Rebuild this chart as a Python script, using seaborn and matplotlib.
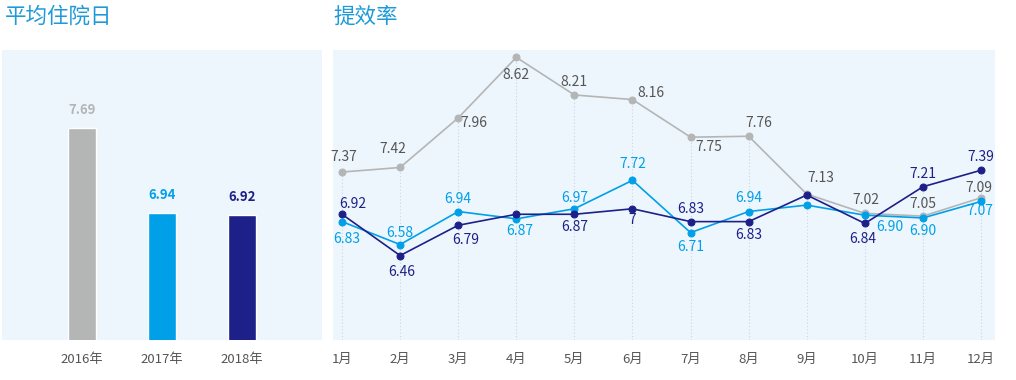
import numpy as np
import pandas as pd
import matplotlib
matplotlib.use('Agg')
import matplotlib.pyplot as plt
import seaborn as sns

sns.set_style('white')
plt.rcParams['font.family'] = ['Noto Sans CJK SC', 'DejaVu Sans']
plt.rcParams['axes.unicode_minus'] = False

# ---------------------------------------------------------------------------
# data (point heights; label texts as printed)
# ---------------------------------------------------------------------------
years = ['2016年', '2017年', '2018年']
avg_stay = [7.69, 6.94, 6.92]

months = ['1月', '2月', '3月', '4月', '5月', '6月', '7月', '8月', '9月', '10月', '11月', '12月']
eff_2016 = [7.37, 7.42, 7.96, 8.62, 8.21, 8.16, 7.75, 7.76, 7.13, 6.92, 6.89, 7.09]
eff_2017 = [6.83, 6.58, 6.94, 6.86, 6.97, 7.28, 6.71, 6.94, 7.01, 6.90, 6.87, 7.05]
eff_2018 = [6.91, 6.46, 6.79, 6.91, 6.91, 6.97, 6.83, 6.83, 7.12, 6.81, 7.21, 7.39]

lab_2016 = ['7.37', '7.42', '7.96', '8.62', '8.21', '8.16', '7.75', '7.76', '7.13', '7.02', '7.05', '7.09']
lab_2017 = ['6.83', '6.58', '6.94', '6.87', '6.97', '7.72', '6.71', '6.94', None, '6.90', '6.90', '7.07']
lab_2018 = ['6.92', '6.46', '6.79', None, '6.87', '7', '6.83', '6.83', None, '6.84', '7.21', '7.39']

# label offsets in pixels (dx, dy)
off_2016 = [(2, 15), (-7, 18), (16, -5), (0, -18), (0, 13), (18, 7),
            (18, -10), (10, 13), (14, 16), (1, 13), (0, 12), (-2, 10)]
off_2017 = [(5, -17), (0, 12), (0, 13), (3, -12), (0, 11), (0, 16),
            (0, -14), (0, 14), (0, 0), (25, -12), (0, -13), (-1, -10)]
off_2018 = [(11, 10), (2, -16), (8, -15), (0, 0), (0, -13), (0, -11),
            (0, 13), (0, -13), (0, 0), (-2, -16), (0, 13), (0, 13)]

GRAY = '#b4b6b6'
BLUE = '#00a0e9'
NAVY = '#1d2088'
PANEL = '#eef6fd'
TITLE = '#1f9ad8'
TICK = '#555555'

fig = plt.figure(figsize=(10.16, 3.8), dpi=100)

# ---------------------------------------------------------------------------
# left: average stay bars
# ---------------------------------------------------------------------------
ax1 = fig.add_axes([2 / 1016, 40 / 380, 320 / 1016, 290 / 380])
ax1.set_facecolor(PANEL)
bar_df = pd.DataFrame({'year': years, 'value': avg_stay})
sns.barplot(data=bar_df, x='year', y='value', hue='year',
            palette=[GRAY, BLUE, NAVY], width=0.35, legend=False,
            saturation=1, ax=ax1)
ax1.set_xlim(-1, 3)
ax1.set_ylim(5.82, 8.38)
bar_lab_colors = [GRAY, BLUE, NAVY]
for i, v in enumerate(avg_stay):
    ax1.annotate(f'{v:.2f}', (i, v), xytext=(0, 8), textcoords='offset points',
                 ha='center', va='bottom', fontsize=9.5, fontweight='bold',
                 color=bar_lab_colors[i])
ax1.set_xlabel('')
ax1.set_ylabel('')
ax1.set_yticks([])
ax1.tick_params(axis='x', length=0, pad=9, labelsize=9.5, labelcolor=TICK)
for s in ax1.spines.values():
    s.set_visible(False)

# ---------------------------------------------------------------------------
# right: monthly efficiency lines
# ---------------------------------------------------------------------------
ax2 = fig.add_axes([333 / 1016, 40 / 380, 662 / 1016, 290 / 380])
ax2.set_facecolor(PANEL)
ymin, ymax = 5.54, 8.70
x = np.arange(len(months))

tops = np.max([eff_2016, eff_2017, eff_2018], axis=0)
ax2.vlines(x, ymin, tops, colors='#c8d5e2', linestyles=(0, (1, 2)), linewidth=0.8, zorder=1)

series = [(eff_2016, lab_2016, off_2016, GRAY, '#555555'),
          (eff_2017, lab_2017, off_2017, BLUE, BLUE),
          (eff_2018, lab_2018, off_2018, NAVY, NAVY)]
for vals, labs, offs, col, tcol in series:
    sns.lineplot(x=x, y=vals, color=col, marker='o', markersize=5,
                 markeredgecolor=col, linewidth=1.2, ax=ax2, zorder=3)
    for i, (v, lab) in enumerate(zip(vals, labs)):
        if lab is None:
            continue
        dx, dy = offs[i]
        ax2.annotate(lab, (i, v), xytext=(dx * 0.72, dy * 0.72), textcoords='offset points',
                     ha='center', va='center', fontsize=10, color=tcol, zorder=4)

ax2.set_xlim(-0.155, 11.24)
ax2.set_ylim(ymin, ymax)
ax2.set_xticks(x)
ax2.set_xticklabels(months)
ax2.set_yticks([])
ax2.tick_params(axis='x', length=0, pad=9, labelsize=9.5, labelcolor=TICK)
for s in ax2.spines.values():
    s.set_visible(False)

# titles
fig.text(5 / 1016, 1 - 17 / 380, '平均住院日', fontsize=15.5, color=TITLE, va='center', ha='left')
fig.text(333 / 1016, 1 - 17 / 380, '提效率', fontsize=15.5, color=TITLE, va='center', ha='left')

fig.savefig('out.png', dpi=100)
